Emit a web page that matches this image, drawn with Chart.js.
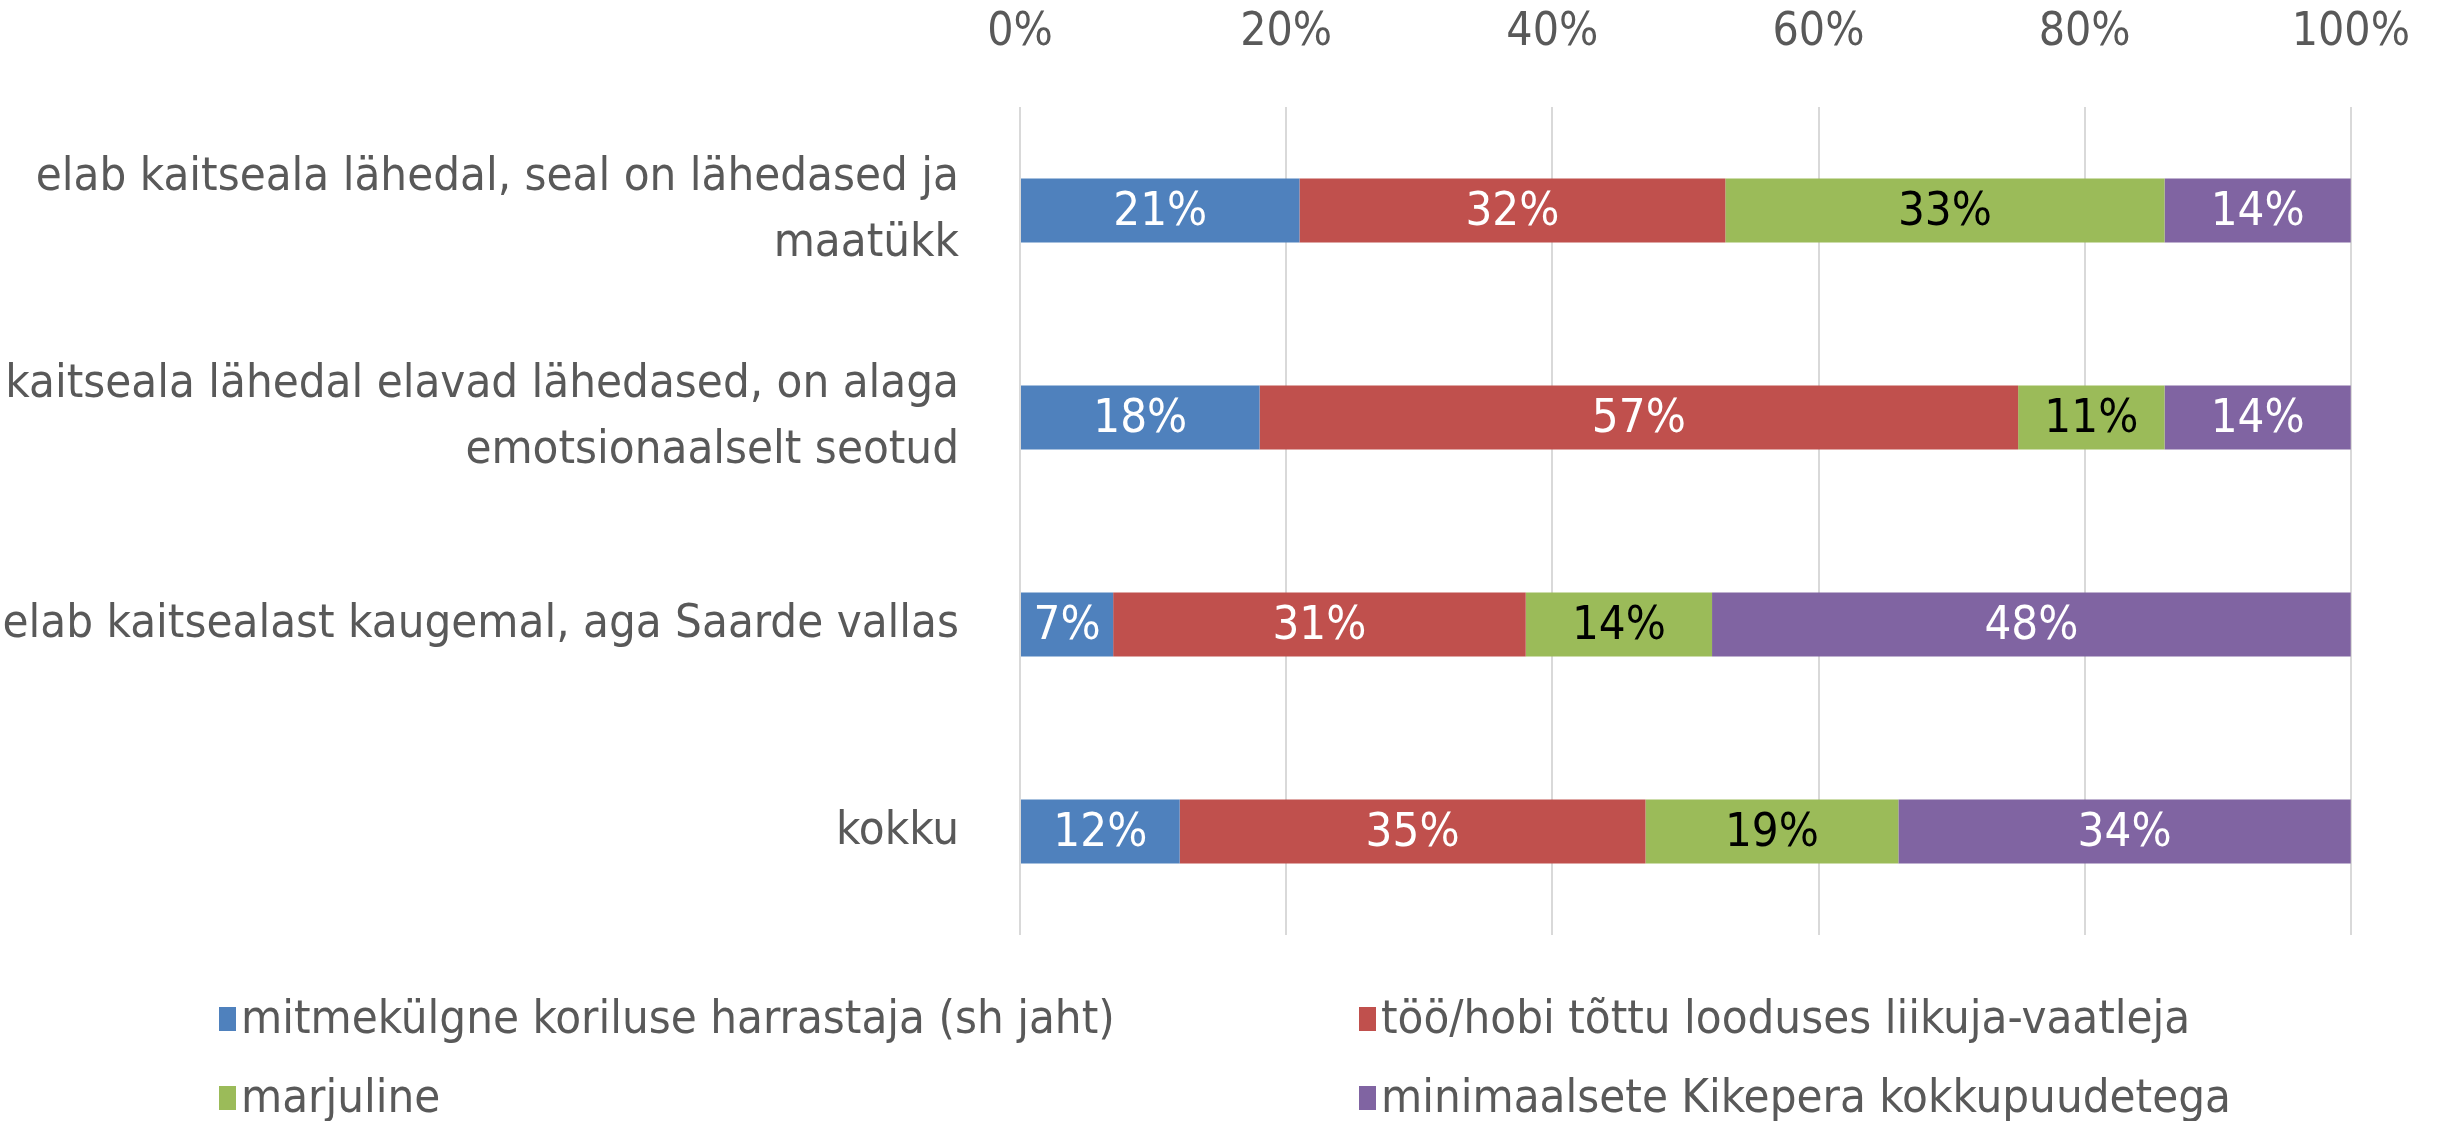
<!DOCTYPE html>
<html>
<head>
<meta charset="utf-8">
<script src="https://cdn.jsdelivr.net/npm/chart.js@4.4.1/dist/chart.umd.min.js"></script>
<style>
    body { margin: 0; background: #ffffff; }
    #wrap { width: 2456px; height: 1121px; }
</style>
</head>
<body>
<div id="wrap"><canvas id="chart"></canvas></div>
<script>
// data
const categories = [
    ["elab kaitseala lähedal, seal on lähedased ja", "maatükk"],
    ["kaitseala lähedal elavad lähedased, on alaga", "emotsionaalselt seotud"],
    "elab kaitsealast kaugemal, aga Saarde vallas",
    "kokku",
];
const seriesNames = [
    "mitmekülgne koriluse harrastaja (sh jaht)",
    "töö/hobi tõttu looduses liikuja-vaatleja",
    "marjuline",
    "minimaalsete Kikepera kokkupuudetega",
];
const coriluseValues = [21, 18, 7, 12];
const vaatlejaValues = [32, 57, 31, 35];
const marjulineValues = [33, 11, 14, 19];
const minimaalseValues = [14, 14, 48, 34];
const tickValues = [0, 20, 40, 60, 80, 100];

const seriesColors = ["#4F81BD", "#C0504D", "#9BBB59", "#8064A2"];
const labelColors = ["#ffffff", "#ffffff", "#000000", "#ffffff"];
const textColor = "#595959";
const fontFamily = "'DejaVu Sans Condensed', 'Liberation Sans Narrow', sans-serif";

// value labels inside the bars
const barLabelPlugin = {
    id: "barLabels",
    afterDatasetsDraw(chart) {
        const ctx = chart.ctx;
        ctx.save();
        ctx.font = "47px " + fontFamily;
        ctx.textAlign = "center";
        ctx.textBaseline = "middle";
        chart.data.datasets.forEach(function (ds, i) {
            const meta = chart.getDatasetMeta(i);
            meta.data.forEach(function (bar, j) {
                ctx.fillStyle = labelColors[i];
                ctx.fillText(ds.data[j] + "%", (bar.x + bar.base) / 2, bar.y + 2);
            });
        });
        ctx.restore();
    },
};

// two-column legend under the chart
const legendX = [219, 1359];
const legendY = [1019, 1098];
const legendPlugin = {
    id: "gridLegend",
    afterDraw(chart) {
        const ctx = chart.ctx;
        ctx.save();
        ctx.font = "47px " + fontFamily;
        ctx.textAlign = "left";
        ctx.textBaseline = "middle";
        chart.data.datasets.forEach(function (ds, i) {
            const x = legendX[i % 2];
            const y = legendY[Math.floor(i / 2)];
            ctx.fillStyle = ds.backgroundColor;
            ctx.fillRect(x, y - 12, 17, 24);
            ctx.fillStyle = textColor;
            ctx.fillText(ds.label, x + 22, y + 2);
        });
        ctx.restore();
    },
};

const allValues = [coriluseValues, vaatlejaValues, marjulineValues, minimaalseValues];
const datasets = allValues.map(function (vals, i) {
    return {
        label: seriesNames[i],
        data: vals,
        backgroundColor: seriesColors[i],
        borderWidth: 0,
        categoryPercentage: 1,
        barPercentage: 0.31,
    };
});

new Chart(document.querySelector("#chart"), {
    type: "bar",
    data: { labels: categories, datasets: datasets },
    plugins: [barLabelPlugin, legendPlugin],
    options: {
        indexAxis: "y",
        responsive: true,
        maintainAspectRatio: false,
        animation: false,
        layout: { padding: { left: 0, right: 72, top: 0, bottom: 186 } },
        plugins: {
            legend: { display: false },
            tooltip: { enabled: false },
        },
        scales: {
            x: {
                position: "top",
                stacked: true,
                min: 0,
                max: 100,
                afterBuildTicks: function (scale) {
                    scale.ticks = tickValues.map(function (v) { return { value: v }; });
                },
                afterFit: function (scale) { scale.height = 107; },
                ticks: {
                    color: textColor,
                    font: { family: fontFamily, size: 46 },
                    padding: 46,
                    maxRotation: 0,
                    callback: function (v) { return v + "%"; },
                },
                grid: { color: "#D9D9D9", lineWidth: 2, drawTicks: false },
                border: { display: false },
            },
            y: {
                stacked: true,
                afterFit: function (scale) { scale.width = 1020; },
                ticks: {
                    color: textColor,
                    font: { family: fontFamily, size: 47, lineHeight: 1.4 },
                    padding: 53,
                },
                grid: { display: false },
                border: { display: false },
            },
        },
    },
});
</script>
</body>
</html>
